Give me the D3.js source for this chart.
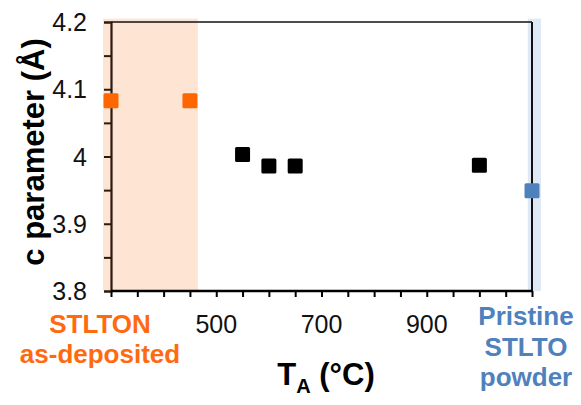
<!DOCTYPE html>
<html><head><meta charset="utf-8">
<script src="https://cdn.jsdelivr.net/npm/d3@7"></script>
<style>body{margin:0;background:#fff}svg{display:block}text{font-family:"Liberation Sans",Arial,sans-serif}</style>
</head><body><svg id="c" width="581" height="405"></svg>
<script>
const depTemps = [300, 450];
const depC = [4.083, 4.083];
const annTemps = [550, 600, 650, 1000];
const annC = [4.003, 3.986, 3.986, 3.987];
const powderTemps = [1100];
const powderC = [3.949];
const xMajorTicks = [500, 700, 900];
const xMinorTicks = [300,350,400,450,500,550,600,650,700,750,800,850,900,950,1000,1050,1100];
const yTicks = [3.8, 3.9, 4.0, 4.1, 4.2];
const yTickLabels = ["3.8","3.9","4","4.1","4.2"];
const yMinorTicks = [3.8,3.85,3.9,3.95,4.0,4.05,4.1,4.15,4.2];
const depLabel = ["STLTON", "as-deposited"];
const powderLabel = ["Pristine", "STLTO", "powder"];
const depBand = [285, 465];
const powderBand = [1092, 1117];
const bandTop = 4.205;

const svg = d3.select("#c");
const m = {l:111, r:532, t:22, b:291};
const x = d3.scaleLinear().domain([300,1100]).range([m.l, m.r]);
const y = d3.scaleLinear().domain([3.8,4.2]).range([m.b, m.t]);

// bands
svg.append("rect").attr("x", x(depBand[0])).attr("width", x(depBand[1]) - x(depBand[0]))
  .attr("y", y(bandTop)).attr("height", y(3.8) - y(bandTop)).attr("fill", "#fde4d3");
svg.append("rect").attr("x", x(powderBand[0])).attr("width", x(powderBand[1]) - x(powderBand[0]))
  .attr("y", y(bandTop)).attr("height", y(3.8) - y(bandTop)).attr("fill", "#dfe8f5");

// top and right border
svg.append("line").attr("x1", m.l).attr("x2", m.r).attr("y1", m.t).attr("y2", m.t).attr("stroke", "#111").attr("stroke-width", 1.6);
svg.append("line").attr("x1", m.r).attr("x2", m.r).attr("y1", m.t).attr("y2", m.b).attr("stroke", "#111").attr("stroke-width", 2);

// y axis
const yAx = svg.append("g").attr("transform", `translate(${m.l},0)`)
  .call(d3.axisLeft(y).tickValues(yMinorTicks).tickSize(7).tickFormat(""));
yAx.select(".domain").attr("stroke", "#2a1a10").attr("stroke-width", 2.2);
yAx.selectAll(".tick line").attr("stroke", "#2a1a10").attr("stroke-width", 2);
svg.append("g").selectAll("text").data(yTicks).join("text")
  .attr("x", 87).attr("y", d => y(d)).attr("dy", "0.36em").attr("text-anchor", "end")
  .attr("font-size", 25).attr("fill", "#111").text((d,i) => yTickLabels[i]);

// x axis
const xAx = svg.append("g").attr("transform", `translate(0,${m.b})`)
  .call(d3.axisBottom(x).tickValues(xMinorTicks).tickSize(6).tickFormat(""));
xAx.select(".domain").attr("stroke", "#000").attr("stroke-width", 2.6).attr("d", `M${m.l},0H${m.r}`);
xAx.selectAll(".tick line").attr("stroke", "#000").attr("stroke-width", 2);
svg.append("g").selectAll("text").data(xMajorTicks).join("text")
  .attr("x", d => x(d)).attr("y", 333).attr("text-anchor", "middle")
  .attr("font-size", 25).attr("fill", "#111").text(d => d);

// category labels
svg.append("g").selectAll("text").data(depLabel).join("text")
  .attr("x", 100).attr("y", (d,i) => 333 + i*30).attr("text-anchor", "middle")
  .attr("font-size", 26).attr("font-weight", "bold").attr("fill", "#ff6a10").text(d => d);
svg.append("g").selectAll("text").data(powderLabel).join("text")
  .attr("x", 526).attr("y", (d,i) => 325 + i*30.5).attr("text-anchor", "middle")
  .attr("font-size", 26).attr("font-weight", "bold").attr("fill", "#4f81bd").text(d => d);

// markers
const sz = 15;
function squares(xs, ys, col) {
  svg.append("g").selectAll("rect").data(xs).join("rect")
    .attr("x", d => x(d) - sz/2).attr("y", (d,i) => y(ys[i]) - sz/2)
    .attr("width", sz).attr("height", sz).attr("rx", 1.5).attr("fill", col);
}
squares(depTemps, depC, "#ff6600");
squares(annTemps, annC, "#000");
squares(powderTemps, powderC, "#4f81bd");

// axis titles
svg.append("text").attr("transform", "translate(44,152) rotate(-90)")
  .attr("text-anchor", "middle").attr("font-size", 31).attr("font-weight", "bold").attr("fill", "#000")
  .text("c parameter (Å)");
const xt = svg.append("text").attr("x", 326).attr("y", 385).attr("text-anchor", "middle")
  .attr("font-size", 31).attr("font-weight", "bold").attr("fill", "#000");
xt.append("tspan").text("T");
xt.append("tspan").attr("font-size", 20).attr("dy", 8).text("A");
xt.append("tspan").attr("dy", -8).text(" (°C)");
</script></body></html>
